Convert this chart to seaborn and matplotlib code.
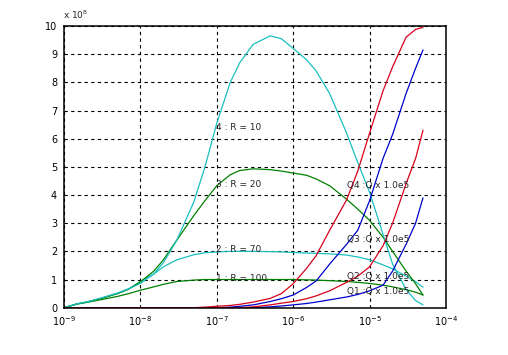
#!/usr/bin/env python3
# -*- coding: utf-8 -*-
"""R curves and Q curves on a log x axis, MATLAB-like look."""

import numpy as np
import pandas as pd
import seaborn as sns
import matplotlib
matplotlib.use("Agg")
import matplotlib.pyplot as plt
from matplotlib.ticker import NullLocator, FixedLocator

# %% Data (y in units of 10^8)

x_vals = [1e-9, 1.5e-9, 2e-9, 3e-9, 5e-9, 7e-9,
          1e-8, 1.5e-8, 2e-8, 3e-8, 5e-8, 7e-8,
          1e-7, 1.5e-7, 2e-7, 3e-7, 5e-7, 7e-7,
          1e-6, 1.5e-6, 2e-6, 3e-6, 5e-6, 7e-6,
          1e-5, 1.5e-5, 2e-5, 3e-5, 4e-5, 5e-5]

r10 = [0, 0.14, 0.21, 0.34, 0.52, 0.67,
       0.86, 1.20, 1.60, 2.40, 3.75, 5.00,
       6.55, 8.00, 8.70, 9.35, 9.65, 9.55,
       9.20, 8.80, 8.40, 7.60, 6.20, 5.15,
       4.10, 2.60, 1.55, 0.65, 0.25, 0.10]
r20 = [0, 0.14, 0.20, 0.32, 0.50, 0.66,
       0.92, 1.30, 1.70, 2.40, 3.27, 3.80,
       4.33, 4.72, 4.87, 4.93, 4.90, 4.85,
       4.78, 4.70, 4.57, 4.33, 3.85, 3.50,
       3.10, 2.50, 2.00, 1.30, 0.85, 0.45]
r70 = [0, 0.14, 0.20, 0.32, 0.50, 0.66,
       0.93, 1.20, 1.45, 1.70, 1.88, 1.95,
       1.98, 2.00, 2.00, 2.00, 1.99, 1.98,
       1.96, 1.94, 1.93, 1.91, 1.87, 1.80,
       1.70, 1.52, 1.38, 1.12, 0.92, 0.73]
r100 = [0, 0.13, 0.19, 0.28, 0.40, 0.50,
        0.62, 0.74, 0.83, 0.93, 0.98, 1.00,
        1.00, 1.00, 1.00, 1.00, 1.00, 1.00,
        1.00, 0.99, 0.98, 0.96, 0.93, 0.90,
        0.86, 0.80, 0.74, 0.64, 0.55, 0.45]

q4 = [0, 0, 0, 0, 0, 0,
      0, 0, 0, 0, 0, 0.02,
      0.05, 0.08, 0.12, 0.20, 0.33, 0.50,
      0.85, 1.40, 1.85, 2.75, 3.83, 4.85,
      6.20, 7.70, 8.55, 9.60, 9.88, 9.95]
q3 = [0, 0, 0, 0, 0, 0,
      0, 0, 0, 0, 0, 0,
      0, 0.02, 0.05, 0.10, 0.22, 0.32,
      0.45, 0.72, 0.95, 1.55, 2.25, 2.75,
      3.80, 5.30, 6.15, 7.60, 8.50, 9.15]
q2 = [0, 0, 0, 0, 0, 0,
      0, 0, 0, 0, 0, 0,
      0, 0, 0, 0.03, 0.10, 0.16,
      0.22, 0.32, 0.42, 0.60, 0.90, 1.12,
      1.45, 2.20, 3.00, 4.40, 5.30, 6.30]
q1 = [0, 0, 0, 0, 0, 0,
      0, 0, 0, 0, 0, 0,
      0, 0, 0, 0, 0.03, 0.06,
      0.10, 0.15, 0.20, 0.28, 0.38, 0.47,
      0.60, 0.80, 1.30, 2.25, 3.00, 3.90]

r_labels = ['1 : R = 100', '2 : R = 70', '3 : R = 20', '4 : R = 10']
r_label_y = [1.02, 2.05, 4.36, 6.40]
q_labels = ['Q1 :Q x 1.0e5', 'Q2 :Q x 1.0e5', 'Q3 :Q x 1.0e5', 'Q4 :Q x 1.0e5']
q_label_y = [0.57, 1.10, 2.43, 4.33]

# %% Colours (old MATLAB defaults)
c_cyan = (0.1, 0.75, 0.75)
c_green = (0.0, 0.5, 0.0)
c_red = (0.85, 0.0, 0.1)
c_blue = (0.0, 0.0, 0.8)

# %% Plot

sns.set_style("white")
plt.rcParams['font.family'] = ['DejaVu Sans']

df = pd.DataFrame({'x': x_vals,
                   'r100': r100, 'r70': r70, 'r20': r20, 'r10': r10,
                   'q1': q1, 'q2': q2, 'q3': q3, 'q4': q4})

fig = plt.figure(figsize=(5.08, 3.55), dpi=100)
ax = fig.add_axes([64 / 508, 1 - 307.7 / 355, 382 / 508, 281.7 / 355])
ax.set_xscale('log')

# R curves first, Q curves on top
lst_series = [('r100', c_green), ('r70', c_cyan), ('r20', c_green),
              ('r10', c_cyan), ('q1', c_blue), ('q3', c_blue),
              ('q2', c_red), ('q4', c_red)]
for col, colr in lst_series:
    sns.lineplot(data=df, x='x', y=col, color=colr, linewidth=0.9,
                 ax=ax, legend=False)

for lab, yy in zip(r_labels, r_label_y):
    ax.text(0.97e-7, yy, lab, fontsize=6.5, va='center', ha='left')
for lab, yy in zip(q_labels, q_label_y):
    ax.text(5e-6, yy, lab, fontsize=6.5, va='center', ha='left')

ax.set_xlim(1e-9, 1e-4)
ax.set_ylim(0, 10)
ax.xaxis.set_major_locator(FixedLocator([1e-9, 1e-8, 1e-7, 1e-6, 1e-5, 1e-4]))
ax.xaxis.set_minor_locator(NullLocator())
ax.set_yticks(np.arange(0, 11, 1))
ax.set_xlabel('')
ax.set_ylabel('')
ax.grid(True, which='major', color='k', linestyle=(0, (3, 3)), linewidth=0.8)
ax.tick_params(direction='in', length=3, labelsize=7, colors='k', pad=5)
for sp in ax.spines.values():
    sp.set_color('k')
    sp.set_linewidth(1.1)

fig.text(63 / 508, 1 - 15 / 355, 'x 10$^{8}$', fontsize=6.5, va='center')

fig.savefig('out.png', dpi=100)
